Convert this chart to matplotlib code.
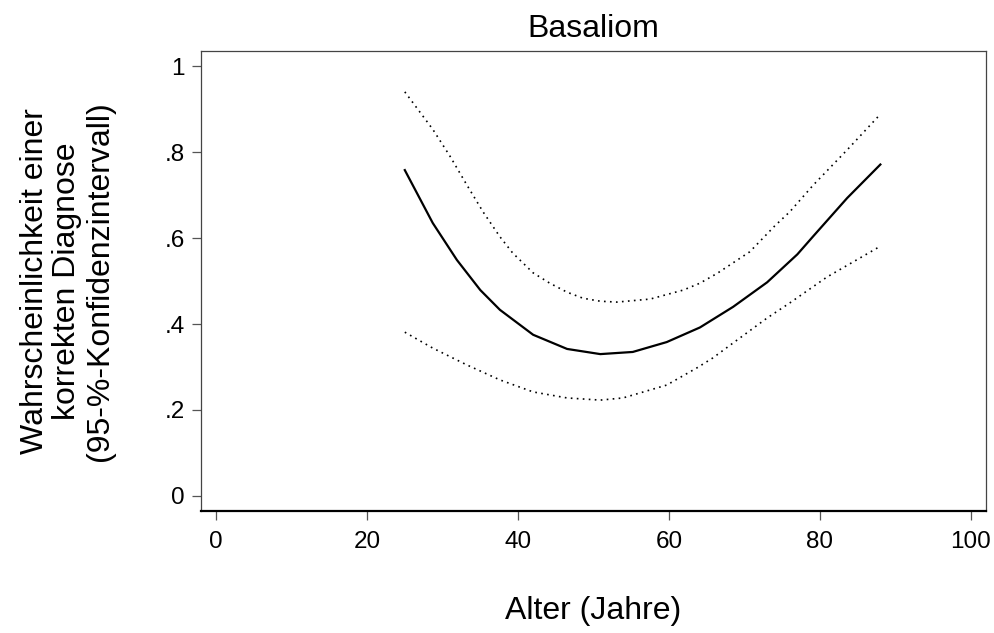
import matplotlib
matplotlib.use("Agg")
import matplotlib.pyplot as plt

plt.rcParams["font.family"] = ["Liberation Sans", "DejaVu Sans"]

# predicted probability and 95% CI
age_fit = [25, 28.7, 31.9, 35, 37.6, 42, 46.5, 50.9, 55.2, 59.7, 64.1, 68.5, 73, 77, 79.1, 83.6, 88]
p_fit = [0.758, 0.635, 0.549, 0.479, 0.433, 0.375, 0.342, 0.330, 0.335, 0.358, 0.392, 0.440,
         0.497, 0.562, 0.604, 0.693, 0.771]

age_hi = [25, 28.7, 31, 33.2, 35.4, 37.6, 39.3, 42, 44.2, 46.5, 48.6, 50.9, 53.1, 57.5, 61.9,
          64.1, 66.4, 70.7, 74, 76, 79.1, 83.6, 88]
p_hi = [0.940, 0.853, 0.790, 0.724, 0.660, 0.603, 0.565, 0.519, 0.495, 0.474, 0.460, 0.453,
        0.451, 0.458, 0.479, 0.495, 0.518, 0.568, 0.628, 0.661, 0.723, 0.805, 0.888]

age_lo = [25, 28.7, 33.2, 37.6, 42, 46.5, 50.9, 53.9, 59.7, 63.7, 65.8, 68.5, 73, 76, 80.9, 88]
p_lo = [0.381, 0.344, 0.305, 0.270, 0.242, 0.228, 0.223, 0.228, 0.258, 0.298, 0.321, 0.356,
        0.414, 0.449, 0.509, 0.581]

xticks = [0, 20, 40, 60, 80, 100]
yticks = [0, 0.2, 0.4, 0.6, 0.8, 1.0]
ytick_labels = ["0", ".2", ".4", ".6", ".8", "1"]

fig = plt.figure(figsize=(9.95, 6.33), dpi=100)
ax = fig.add_axes([0.202, 0.1927, 0.789, 0.7267])

dots = (0, (1, 2.6))
ax.plot(age_hi, p_hi, color="black", lw=1.2, linestyle=dots, solid_joinstyle="round")
ax.plot(age_lo, p_lo, color="black", lw=1.2, linestyle=dots, solid_joinstyle="round")
ax.plot(age_fit, p_fit, color="black", lw=1.6, solid_joinstyle="round")

ax.set_xlim(-2, 102)
ax.set_ylim(-0.035, 1.035)
ax.set_xticks(xticks)
ax.set_xticklabels([str(x) for x in xticks])
ax.set_yticks(yticks)
ax.set_yticklabels(ytick_labels)
ax.tick_params(axis="both", direction="out", length=6.5, width=0.9, color="#555555",
               labelsize=17.5, pad=5)
ax.tick_params(axis="x", pad=8)

for side in ["left", "top", "right"]:
    ax.spines[side].set_color("#444444")
    ax.spines[side].set_linewidth(0.9)
ax.spines["bottom"].set_color("black")
ax.spines["bottom"].set_linewidth(1.6)

ax.set_title("Basaliom", fontsize=23, pad=10)
ax.set_xlabel("Alter (Jahre)", fontsize=23, labelpad=31)
ax.set_ylabel("Wahrscheinlichkeit einer\nkorrekten Diagnose\n(95-%-Konfidenzintervall)",
              fontsize=23, labelpad=36, linespacing=1.1)

fig.savefig("out.png", dpi=100)
